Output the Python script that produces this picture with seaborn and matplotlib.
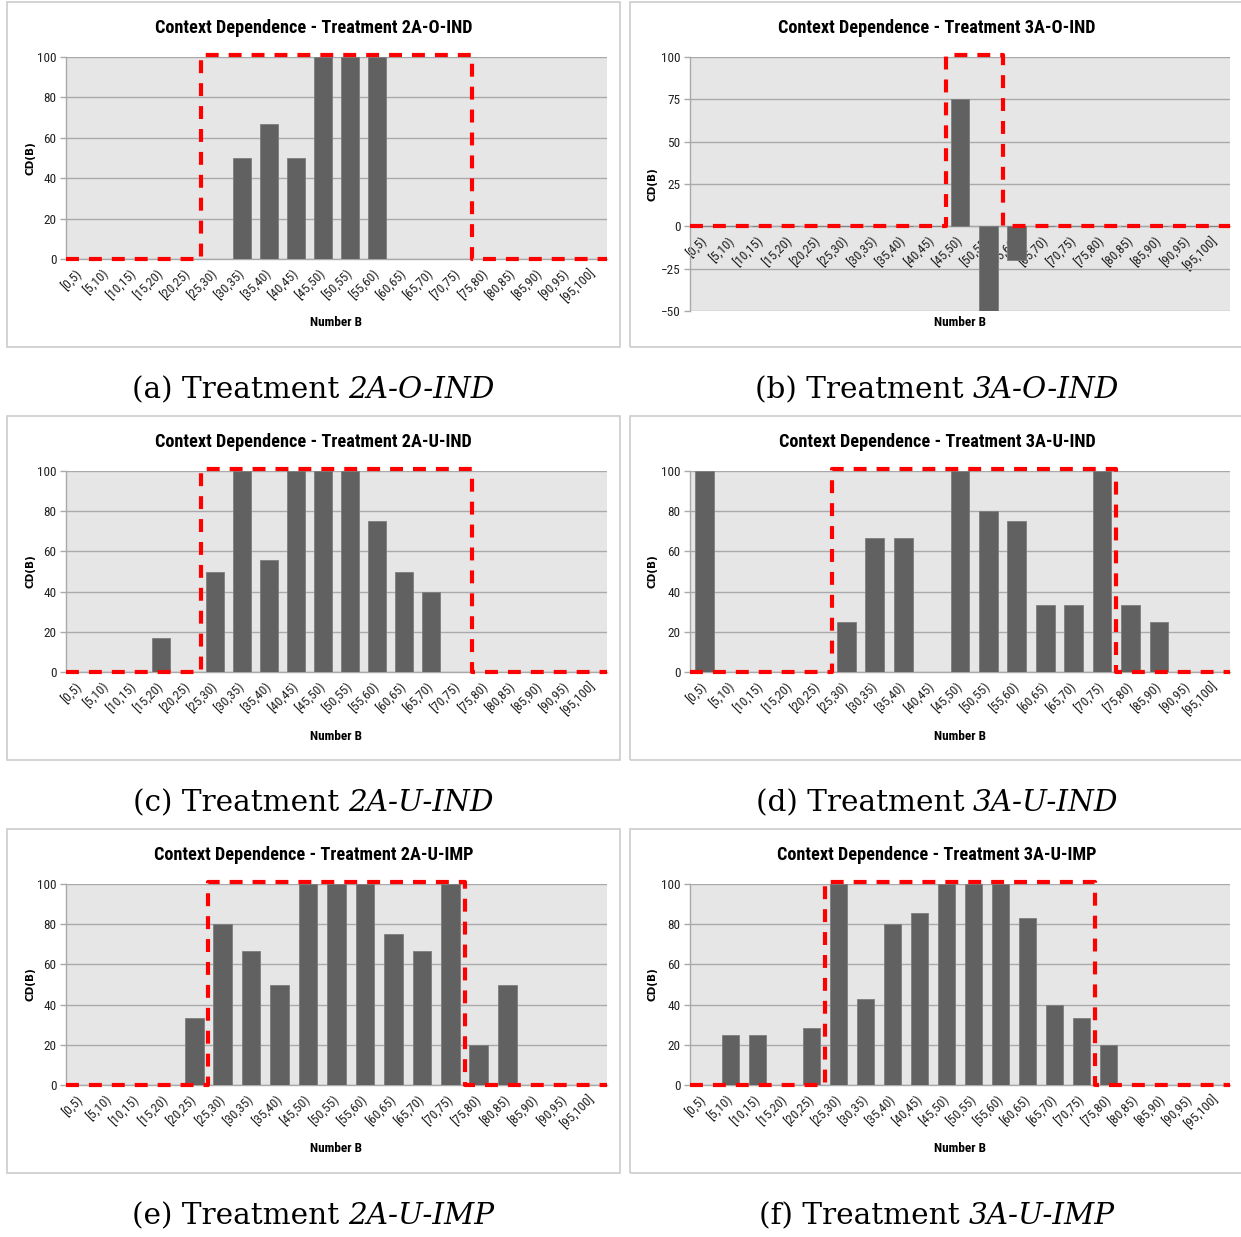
import numpy as np
import pandas as pd
import matplotlib
matplotlib.use("Agg")
import matplotlib.pyplot as plt
from matplotlib import font_manager
from matplotlib.patches import Rectangle
import seaborn as sns

# ---------------------------------------------------------------- data
bins_all = ["[0,5)", "[5,10)", "[10,15)", "[15,20)", "[20,25)", "[25,30)",
            "[30,35)", "[35,40)", "[40,45)", "[45,50)", "[50,55)", "[55,60)",
            "[60,65)", "[65,70)", "[70,75)", "[75,80)", "[80,85)", "[85,90)",
            "[90,95)", "[95,100]"]

cats_2a_o_ind = bins_all
vals_2a_o_ind = [0, 0, 0, 0, 0, 0, 50, 66.7, 50, 100, 100, 100,
                 0, 0, 0, 0, 0, 0, 0, 0]

cats_3a_o_ind = [b for b in bins_all if b != "[60,65)"]
vals_3a_o_ind = [0, 0, 0, 0, 0, 0, 0, 0, 0, 75, -50, -20,
                 0, 0, 0, 0, 0, 0, 0]

cats_2a_u_ind = bins_all
vals_2a_u_ind = [0, 0, 0, 16.7, 0, 50, 100, 55.6, 100, 100, 100, 75,
                 50, 40, 0, 0, 0, 0, 0, 0]

cats_3a_u_ind = [b for b in bins_all if b != "[80,85)"]
vals_3a_u_ind = [100, 0, 0, 0, 0, 25, 66.7, 66.7, 0, 100, 80, 75,
                 33.3, 33.3, 100, 33.3, 25, 0, 0]

cats_2a_u_imp = [b for b in bins_all if b != "[40,45)"]
vals_2a_u_imp = [0, 0, 0, 0, 33.3, 80, 66.7, 50, 100, 100, 100, 75,
                 66.7, 100, 20, 50, 0, 0, 0]

cats_3a_u_imp = bins_all
vals_3a_u_imp = [0, 25, 25, 0, 28.6, 100, 42.9, 80, 85.7, 100, 100, 100,
                 83.3, 40, 33.3, 20, 0, 0, 0, 0]

# first and last bin of the highlighted range in each treatment
band_2a_o_ind = ("[25,30)", "[70,75)")
band_3a_o_ind = ("[45,50)", "[50,55)")
band_2a_u_ind = ("[25,30)", "[70,75)")
band_3a_u_ind = ("[25,30)", "[70,75)")
band_2a_u_imp = ("[25,30)", "[70,75)")
band_3a_u_imp = ("[25,30)", "[70,75)")

treatments = ["2A-O-IND", "3A-O-IND", "2A-U-IND", "3A-U-IND", "2A-U-IMP", "3A-U-IMP"]
letters = ["a", "b", "c", "d", "e", "f"]

# ---------------------------------------------------------------- fonts
available = {f.name for f in font_manager.fontManager.ttflist}


def pick(*names):
    for n in names:
        if n in available:
            return n
    return "DejaVu Sans"


SANS = pick("Liberation Sans Narrow", "Roboto Condensed", "Roboto", "Open Sans")
SERIF = pick("DejaVu Serif", "Liberation Serif")

sns.set_style("white")
plt.rcParams["font.family"] = [SANS, "DejaVu Sans"]
plt.rcParams["text.color"] = "black"

# ---------------------------------------------------------------- figure
W, H, DPI = 1241, 1237, 100
fig = plt.figure(figsize=(W / DPI, H / DPI), dpi=DPI)
renderer = fig.canvas.get_renderer()


def fx(px):
    return px / W


def fy(py):
    return 1 - py / H


BAR = "#616161"
GRID = "#a9a9a9"
BG = "#e6e6e6"
RED = "#ff0000"

col_left = [66, 690]
col_right = [607, 1230]
frame_x = [(7, 620), (630, 1245)]
row_top = [57, 471, 884]
frame_y = [(2, 347), (416, 760), (829, 1173)]
title_y = [28, 442, 855]
xlabel_y = [322, 736, 1148]
caption_y = [390, 803, 1216]
# lower edge of each plotting area, panel by panel
plot_bottom = [259, 311, 672, 672, 1085, 1085]

panels = [
    (cats_2a_o_ind, vals_2a_o_ind, band_2a_o_ind),
    (cats_3a_o_ind, vals_3a_o_ind, band_3a_o_ind),
    (cats_2a_u_ind, vals_2a_u_ind, band_2a_u_ind),
    (cats_3a_u_ind, vals_3a_u_ind, band_3a_u_ind),
    (cats_2a_u_imp, vals_2a_u_imp, band_2a_u_imp),
    (cats_3a_u_imp, vals_3a_u_imp, band_3a_u_imp),
]


def text_width(t):
    return t.get_window_extent(renderer).width


# title size fitted to a 315 px wide heading
probe = fig.text(0, 0, "Context Dependence - Treatment 2A-O-IND", size=10,
                 weight="bold")
TITLE_SIZE = min(13.2, 10 * 315 / text_width(probe))
probe.remove()

# caption size fitted to a 363 px wide caption
p1 = fig.text(0, 0, "(a) Treatment", family=SERIF, size=10)
p2 = fig.text(0, 0, "2A-O-IND", family=SERIF, style="italic", size=10)
w_probe = text_width(p1) + text_width(p2) + 0.3 * 10 * DPI / 72
CAP_SIZE = 10 * 363 / w_probe
p1.remove()
p2.remove()


def caption(cx, cy, plain, ital):
    t1 = fig.text(0, fy(cy), plain, family=SERIF, size=CAP_SIZE, va="center",
                  ha="left", color="black")
    t2 = fig.text(0, fy(cy), ital, family=SERIF, style="italic", size=CAP_SIZE,
                  va="center", ha="left", color="black")
    w1, w2 = text_width(t1), text_width(t2)
    gap = 0.3 * CAP_SIZE * DPI / 72
    x0 = cx - (w1 + gap + w2) / 2
    t1.set_x(fx(x0))
    t2.set_x(fx(x0 + w1 + gap))


for i, (cats, vals, band) in enumerate(panels):
    r, c = divmod(i, 2)
    x0, x1 = col_left[c], col_right[c]
    y0, y1 = row_top[r], plot_bottom[i]

    # panel frame
    fl, fr = frame_x[c]
    ft, fb = frame_y[r]
    fig.add_artist(Rectangle((fx(fl), fy(fb)), fx(fr - fl), (fb - ft) / H,
                             transform=fig.transFigure, fill=False,
                             edgecolor="#cccccc", lw=1.2))

    ax = fig.add_axes([fx(x0), fy(y1), fx(x1 - x0), (y1 - y0) / H])
    df = pd.DataFrame({"bin": cats, "cd": vals})
    sns.barplot(data=df, x="bin", y="cd", order=cats, color=BAR, saturation=1,
                width=0.66, edgecolor="#7d7d7d", linewidth=0.6, ax=ax, zorder=3)

    n = len(cats)
    ax.set_xlim(-0.5, n - 0.5)
    if min(vals) < 0:
        ax.set_ylim(-50, 100)
        ax.set_yticks(np.arange(-50, 101, 25))
    else:
        ax.set_ylim(0, 100)
        ax.set_yticks(np.arange(0, 101, 20))
    ax.set_facecolor(BG)
    ax.set_axisbelow(True)
    ax.grid(axis="y", color=GRID, lw=1.0)
    ax.grid(axis="x", visible=False)

    for s in ("top", "right"):
        ax.spines[s].set_visible(False)
    ax.spines["left"].set_color(GRID)
    ax.spines["bottom"].set_color(GRID)
    ax.spines["left"].set_linewidth(1.0)
    ax.spines["bottom"].set_linewidth(1.0)
    ax.spines["bottom"].set_position(("data", 0))

    ax.set_xticks(np.arange(n))
    ax.set_xticklabels(cats, rotation=45, ha="right", va="center",
                       rotation_mode="anchor", fontsize=9.5, color="#222222")
    ax.set_xticks(np.arange(-0.5, n, 1.0), minor=True)
    ax.tick_params(axis="x", which="major", length=0, pad=9)
    ax.tick_params(axis="x", which="minor", length=4, color=GRID, width=1)
    ax.tick_params(axis="y", length=4, color=GRID, width=1, labelsize=9.5,
                   labelcolor="#222222", pad=3, left=True)
    ax.set_xlabel("")
    ax.set_ylabel("")

    # highlighted range of bins
    lo = cats.index(band[0]) - 0.5
    hi = cats.index(band[1]) + 0.5
    top = 101.2
    ax.plot([-0.5, lo, lo, hi, hi, n - 0.5], [0, 0, top, top, 0, 0],
            color=RED, lw=3.0, dashes=(3.1, 2.4), clip_on=False, zorder=5,
            solid_capstyle="butt", dash_capstyle="butt")

    # headings and labels
    fig.text(fx((x0 + x1) / 2 - 23), fy(title_y[r]),
             f"Context Dependence - Treatment {treatments[i]}",
             size=TITLE_SIZE, weight="bold", ha="center", va="center")
    fig.text(fx(fl + 23), fy((y0 + y1) / 2), "CD(B)", rotation=90, size=7.5,
             weight="bold", ha="center", va="center", family="DejaVu Sans")
    fig.text(fx((x0 + x1) / 2), fy(xlabel_y[r]), "Number B", size=9.5,
             weight="bold", ha="center", va="center")

    caption(313 if c == 0 else 937, caption_y[r], f"({letters[i]}) Treatment",
            treatments[i])

fig.savefig("out.png", dpi=DPI, facecolor="white")
